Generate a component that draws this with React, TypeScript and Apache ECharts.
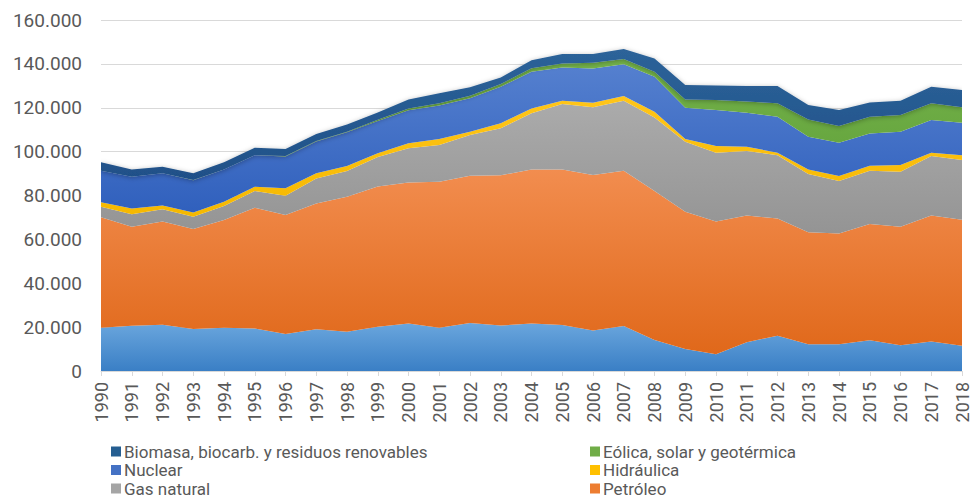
import React, { useEffect, useRef } from "react";
import * as echarts from "echarts";

const years = [
  "1990", "1991", "1992", "1993", "1994", "1995", "1996", "1997", "1998", "1999",
  "2000", "2001", "2002", "2003", "2004", "2005", "2006", "2007", "2008", "2009",
  "2010", "2011", "2012", "2013", "2014", "2015", "2016", "2017", "2018",
];

// thousands of ktep
const carbon = [19.7, 20.6, 21.1, 19.1, 19.7, 19.4, 16.9, 19.0, 17.9, 20.2, 21.6, 19.7, 21.9, 20.7, 21.6, 21.0, 18.5, 20.5, 14.1, 10.0, 7.6, 13.1, 16.1, 12.2, 12.2, 14.0, 11.7, 13.4, 11.5];
const petroleo = [50.4, 45.2, 47.0, 45.6, 49.1, 55.0, 54.2, 57.4, 61.5, 63.9, 64.3, 66.6, 67.1, 68.5, 70.3, 70.9, 70.8, 70.8, 67.9, 62.6, 60.5, 57.8, 53.4, 51.0, 50.5, 53.0, 54.0, 57.5, 57.5];
const gasNatural = [4.8, 5.6, 5.6, 5.6, 6.4, 7.6, 8.8, 11.4, 11.8, 13.4, 15.6, 16.7, 18.6, 21.4, 25.6, 29.8, 30.9, 31.9, 33.6, 31.9, 31.4, 29.4, 28.9, 26.6, 23.9, 24.3, 25.1, 27.1, 27.2];
const hidraulica = [2.0, 2.7, 1.7, 2.0, 2.0, 2.0, 3.4, 2.3, 2.2, 1.8, 2.3, 2.7, 1.5, 2.3, 2.2, 1.5, 2.1, 2.1, 2.6, 1.2, 3.1, 1.9, 1.1, 2.1, 2.3, 2.3, 3.1, 1.5, 2.2];
const nuclear = [14.4, 14.5, 14.7, 14.7, 14.6, 14.3, 14.5, 14.5, 15.4, 14.7, 15.1, 15.3, 15.2, 16.7, 16.7, 15.2, 15.6, 14.5, 15.9, 14.3, 16.4, 15.5, 16.4, 14.9, 15.2, 14.7, 15.2, 14.9, 14.8];
const eolica = [0.0, 0.0, 0.0, 0.1, 0.1, 0.1, 0.2, 0.2, 0.3, 0.5, 0.8, 1.0, 1.2, 1.2, 1.6, 1.8, 2.6, 2.4, 2.3, 3.8, 4.5, 5.1, 6.1, 7.9, 7.6, 7.6, 7.6, 7.6, 7.0];
const biomasa = [3.8, 3.3, 3.0, 3.0, 3.2, 3.4, 3.2, 3.2, 3.3, 3.3, 4.1, 4.6, 3.8, 3.0, 3.7, 4.3, 4.0, 4.6, 6.1, 6.6, 6.6, 7.1, 7.9, 6.5, 7.3, 6.5, 6.5, 7.6, 7.9];

const yTicks = { min: 0, max: 160, interval: 20 };

// legend rows (row-major, two columns); the 7th entry (Carbón) falls below the picture
const legendColumns = [
  ["Biomasa, biocarb. y residuos renovables", "Nuclear", "Gas natural"],
  ["Eólica, solar y geotérmica", "Hidráulica", "Petróleo"],
];

const grad = (top: string, bottom: string) =>
  new echarts.graphic.LinearGradient(0, 0, 0, 1, [
    { offset: 0, color: top },
    { offset: 1, color: bottom },
  ]);

const FONT = "Roboto, 'Open Sans', sans-serif";
const TXT = "#595959";

export default function App() {
  const ref = useRef<HTMLDivElement>(null);

  useEffect(() => {
    if (!ref.current) return;
    const chart = echarts.init(ref.current, undefined, { renderer: "svg" });

    const mk = (name: string, data: number[], top: string, bottom: string, legendColor: string, extra: any = {}) => ({
      name,
      type: "line",
      stack: "total",
      data,
      symbol: "none",
      lineStyle: { width: 0 },
      itemStyle: { color: legendColor },
      areaStyle: { color: grad(top, bottom), opacity: 1, ...extra },
      emphasis: { disabled: true },
    });

    const colLeft = [111, 590];
    const rowTop = [443, 461.5, 480];
    const legends: any[] = [];
    legendColumns.forEach((col, ci) =>
      col.forEach((name, ri) =>
        legends.push({
          orient: "horizontal",
          left: colLeft[ci],
          top: rowTop[ri],
          padding: 0,
          itemWidth: 10,
          itemHeight: 10,
          icon: "rect",
          selectedMode: false,
          textStyle: { color: TXT, fontSize: 17, lineHeight: 16, fontFamily: FONT, padding: [0, 0, 0, -2] },
          data: [name],
        })
      )
    );

    chart.setOption({
      animation: false,
      textStyle: { fontFamily: FONT },
      grid: { left: 101, right: 7, top: 20, bottom: 127, containLabel: false },
      legend: legends,
      xAxis: {
        type: "category",
        data: years,
        boundaryGap: false,
        axisLine: { lineStyle: { color: "#d9d9d9", width: 1 } },
        axisTick: { show: true, length: 5, lineStyle: { color: "#d9d9d9" } },
        axisLabel: { rotate: 90, interval: 0, color: TXT, fontSize: 18, margin: 11, fontFamily: FONT },
      },
      yAxis: {
        type: "value",
        min: yTicks.min,
        max: yTicks.max,
        interval: yTicks.interval,
        axisLine: { show: false },
        axisTick: { show: false },
        splitLine: { lineStyle: { color: "#d9d9d9", width: 1 } },
        axisLabel: {
          color: TXT,
          fontSize: 19,
          margin: 19,
          fontFamily: FONT,
          formatter: (v: number) => (v === 0 ? "0" : `${v}.000`),
        },
      },
      series: [
        mk("Carbón", carbon, "#6aa6dd", "#3a7fc5", "#5b9bd5"),
        mk("Petróleo", petroleo, "#f28d4f", "#e0681a", "#ed7d31"),
        mk("Gas natural", gasNatural, "#ababab", "#949494", "#a5a5a5"),
        mk("Hidráulica", hidraulica, "#ffc51a", "#f5b800", "#ffc000"),
        mk("Nuclear", nuclear, "#5580cf", "#3060bd", "#4472c4"),
        mk("Eólica, solar y geotérmica", eolica, "#74b24a", "#62a23b", "#70ad47"),
        mk("Biomasa, biocarb. y residuos renovables", biomasa, "#2d6399", "#1f5088", "#255e91", {
          shadowColor: "rgba(0,0,0,0.3)",
          shadowBlur: 5,
          shadowOffsetY: 1,
        }),
      ],
    });

    return () => chart.dispose();
  }, []);

  return <div ref={ref} style={{ width: 971, height: 498, position: "absolute", left: 0, top: 0 }} />;
}
